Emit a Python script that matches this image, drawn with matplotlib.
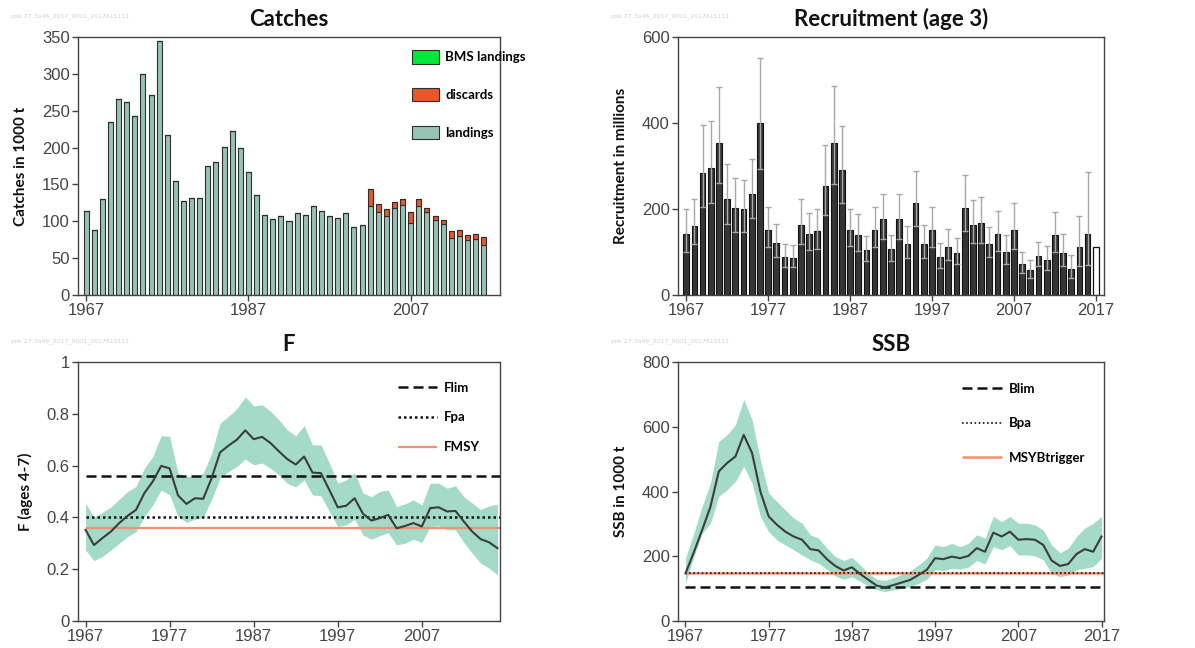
import matplotlib
matplotlib.use("Agg")
import matplotlib.pyplot as plt
import numpy as np

# catches (1000 t)
catch_years = list(range(1967, 2017))
landings = [114, 88, 130, 235, 266, 262, 243, 300, 271, 345,
            217, 155, 128, 131, 131, 175, 180, 201, 222, 199,
            167, 136, 109, 103, 107, 100, 111, 109, 121, 114,
            107, 105, 111, 92, 95, 121, 112, 107, 118, 122,
            97, 121, 113, 102, 96, 77, 80, 74, 76, 68]
discards = [0] * 35 + [23, 12, 9, 8, 8, 15, 9, 5, 5, 6, 10, 8, 7, 7, 11]
bms = [0] * 50

# recruitment age 3 (millions)
rec_years = list(range(1967, 2018))
recruits = [143, 160, 284, 296, 354, 224, 203, 200, 236, 401,
            152, 121, 89, 85, 163, 143, 148, 254, 354, 290,
            152, 139, 104, 152, 176, 106, 176, 119, 215, 118,
            152, 88, 112, 97, 203, 163, 167, 119, 141, 99,
            152, 72, 57, 91, 82, 139, 97, 61, 112, 141, 112]
rec_high = [199, 223, 395, 404, 483, 305, 271, 268, 317, 552,
            205, 164, 118, 117, 223, 191, 201, 348, 486, 392,
            201, 188, 138, 204, 236, 139, 236, 160, 289, 163,
            204, 121, 154, 132, 278, 220, 229, 159, 196, 139,
            215, 100, 81, 124, 114, 193, 143, 94, 184, 287]
rec_low = [101, 119, 205, 214, 260, 165, 147, 147, 179, 293,
           112, 88, 65, 65, 119, 104, 108, 187, 258, 214,
           113, 102, 78, 112, 130, 78, 130, 87, 160, 86,
           112, 63, 81, 71, 148, 120, 122, 88, 102, 71,
           107, 52, 40, 67, 58, 100, 68, 40, 68, 70]

# fishing mortality F (ages 4-7)
f_years = list(range(1967, 2017))
f_est = [0.352, 0.293, 0.320, 0.345, 0.378, 0.406, 0.429, 0.494, 0.539, 0.599,
         0.589, 0.485, 0.452, 0.474, 0.472, 0.552, 0.651, 0.677, 0.700, 0.736,
         0.702, 0.711, 0.687, 0.655, 0.625, 0.604, 0.635, 0.573, 0.571, 0.506,
         0.439, 0.445, 0.474, 0.414, 0.388, 0.397, 0.410, 0.358, 0.367, 0.378,
         0.365, 0.436, 0.439, 0.423, 0.425, 0.384, 0.345, 0.316, 0.304, 0.281]
f_high = [0.455, 0.40, 0.42, 0.44, 0.47, 0.50, 0.52, 0.59, 0.635, 0.716,
          0.713, 0.571, 0.558, 0.558, 0.571, 0.648, 0.764, 0.79, 0.82, 0.865,
          0.83, 0.835, 0.81, 0.777, 0.738, 0.715, 0.754, 0.68, 0.68, 0.61,
          0.532, 0.545, 0.573, 0.494, 0.48, 0.50, 0.506, 0.442, 0.452, 0.468,
          0.448, 0.532, 0.532, 0.513, 0.522, 0.48, 0.455, 0.43, 0.445, 0.451]
f_low = [0.274, 0.233, 0.249, 0.274, 0.30, 0.326, 0.345, 0.403, 0.448, 0.506,
         0.487, 0.403, 0.381, 0.393, 0.40, 0.47, 0.552, 0.577, 0.597, 0.625,
         0.603, 0.61, 0.59, 0.564, 0.532, 0.517, 0.545, 0.487, 0.483, 0.423,
         0.365, 0.371, 0.393, 0.332, 0.316, 0.329, 0.341, 0.294, 0.30, 0.316,
         0.303, 0.365, 0.367, 0.352, 0.352, 0.303, 0.262, 0.223, 0.204, 0.178]
flim, fpa, fmsy = 0.56, 0.40, 0.36

# SSB (1000 t)
ssb_years = list(range(1967, 2018))
ssb = [147, 212, 281, 353, 462, 488, 508, 575, 519, 400,
       323, 297, 276, 261, 251, 222, 218, 191, 170, 156,
       166, 145, 127, 109, 104, 111, 119, 127, 142, 158,
       194, 191, 199, 194, 201, 225, 214, 273, 261, 276,
       251, 253, 251, 235, 187, 170, 176, 207, 222, 214, 261]
ssb_high = [194, 271, 354, 426, 555, 575, 606, 685, 622, 498,
            395, 369, 343, 318, 302, 266, 256, 225, 199, 187,
            197, 173, 147, 129, 125, 134, 144, 155, 173, 194,
            235, 230, 240, 230, 240, 266, 256, 323, 307, 323,
            302, 302, 297, 281, 235, 211, 225, 261, 287, 302, 323]
ssb_low = [116, 198, 271, 302, 385, 405, 431, 478, 426, 323,
           276, 250, 235, 220, 204, 189, 178, 160, 139, 129,
           137, 122, 108, 96, 91, 96, 101, 106, 116, 129,
           158, 156, 163, 160, 166, 187, 176, 230, 220, 233,
           204, 204, 201, 189, 147, 137, 142, 158, 163, 168, 194]
blim, bpa, msy_btrigger = 106, 147, 147

TICK_FONT = ["Liberation Sans Narrow", "Liberation Sans", "DejaVu Sans"]
BOLD_FONT = ["Lato", "DejaVu Sans"]
WATERMARK = "pok.27.3a46_2017_9001_2017615111"
BAND = "#a3dbc8"


def style_axes(ax, xlim, ylim, yticks, xticks, ylabel, title):
    ax.set_xlim(*xlim)
    ax.set_ylim(*ylim)
    ax.set_yticks(yticks)
    ax.set_xticks(xticks)
    for sp in ax.spines.values():
        sp.set_color("#444444")
        sp.set_linewidth(1.0)
    ax.tick_params(axis="both", length=4, width=1, color="#444444",
                   labelcolor="#444444", labelsize=12, pad=2)
    for lab in ax.get_xticklabels() + ax.get_yticklabels():
        lab.set_family(TICK_FONT)
    ax.set_ylabel(ylabel, family=BOLD_FONT, fontweight="bold", fontsize=11,
                  color="#111111", labelpad=10)
    ax.set_title(title, family=BOLD_FONT, fontweight="bold", fontsize=16,
                 color="#111111", pad=8)


fig = plt.figure(figsize=(11.95, 6.48), dpi=100)
W, H = 1195, 648


def add_ax(x0, y0, x1, y1):
    return fig.add_axes([x0 / W, 1 - y1 / H, (x1 - x0) / W, (y1 - y0) / H])


ax1 = add_ax(78, 37, 500, 295)
ax2 = add_ax(678, 37, 1104, 295)
ax3 = add_ax(78, 362, 500, 621)
ax4 = add_ax(678, 362, 1104, 621)

for x in (10, 610):
    fig.text(x / W, 1 - 17 / H, WATERMARK, fontsize=4.5, color="#d0d0d0")
    fig.text(x / W, 1 - 342 / H, WATERMARK, fontsize=4.5, color="#d0d0d0")

# --- Catches
land = np.array(landings)
disc = np.array(discards)
ax1.bar(catch_years, land, width=0.62, color="#96c3b4", edgecolor="#2e2e2e",
        linewidth=0.8, label="landings")
ax1.bar(catch_years, disc, bottom=land, width=0.62, color="#e8562a",
        edgecolor="#2e2e2e", linewidth=0.8, label="discards")
ax1.bar(catch_years, bms, bottom=land + disc, width=0.62, color="#00e83a",
        edgecolor="#2e2e2e", linewidth=0.8, label="BMS landings")
style_axes(ax1, (1966, 2018), (0, 350), range(0, 351, 50), [1967, 1987, 2007],
           "Catches in 1000 t", "Catches")
h, l = ax1.get_legend_handles_labels()
ax1.legend(h[::-1], l[::-1], loc="upper left", bbox_to_anchor=(0.78, 0.97),
           frameon=False, prop={"family": BOLD_FONT, "weight": "bold", "size": 9.5},
           handlelength=2.0, handleheight=1.2, labelspacing=1.85, handletextpad=0.5,
           borderaxespad=0)

# --- Recruitment
err = [np.array(recruits[:-1]) - np.array(rec_low), np.array(rec_high) - np.array(recruits[:-1])]
ax2.bar(rec_years[:-1], recruits[:-1], width=0.7, color="#353535",
        edgecolor="#111111", linewidth=0.8, zorder=2)
ax2.errorbar(rec_years[:-1], recruits[:-1], yerr=err, fmt="none",
             ecolor="#a8a8a8", elinewidth=1.0, capsize=2.5, capthick=1.0, zorder=3)
ax2.bar(rec_years[-1:], recruits[-1:], width=0.7, color="white",
        edgecolor="#111111", linewidth=0.9, zorder=2)
style_axes(ax2, (1966, 2018), (0, 600), [0, 200, 400, 600],
           [1967, 1977, 1987, 1997, 2007, 2017], "Recruitment in millions",
           "Recruitment (age 3)")

# --- F
ax3.fill_between(f_years, f_low, f_high, color=BAND, linewidth=0, zorder=1)
ax3.hlines(fmsy, 1967, 2016.3, color="#f4906c", linewidth=1.6, label="FMSY", zorder=2)
ax3.hlines(fpa, 1967, 2016.3, color="#111111", linewidth=1.8, linestyles=(0, (1, 1.2)),
           label="Fpa", zorder=3)
ax3.hlines(flim, 1967, 2016.3, color="#111111", linewidth=1.8, linestyles=(0, (4, 2)),
           label="Flim", zorder=3)
ax3.plot(f_years, f_est, color="#3c3c3c", linewidth=1.5, zorder=4)
style_axes(ax3, (1966.1, 2016.3), (0, 1), [0, 0.2, 0.4, 0.6, 0.8, 1],
           [1967, 1977, 1987, 1997, 2007], "F (ages 4-7)", "F")
ax3.set_yticklabels(["0", "0.2", "0.4", "0.6", "0.8", "1"], family=TICK_FONT)
h, l = ax3.get_legend_handles_labels()
ax3.legend(h[::-1], l[::-1], loc="upper left", bbox_to_anchor=(0.745, 0.945),
           frameon=False, prop={"family": BOLD_FONT, "weight": "bold", "size": 9.5},
           handlelength=3.0, labelspacing=1.35, handletextpad=0.5, borderaxespad=0)

# --- SSB
ax4.fill_between(ssb_years, ssb_low, ssb_high, color=BAND, linewidth=0, zorder=1)
ax4.hlines(msy_btrigger, 1967, 2017.3, color="#f4906c", linewidth=1.8,
           label="MSYBtrigger", zorder=2)
ax4.hlines(bpa, 1967, 2017.3, color="#111111", linewidth=1.2, linestyles=(0, (1, 1.5)),
           label="Bpa", zorder=3)
ax4.hlines(blim, 1967, 2017.3, color="#111111", linewidth=1.8, linestyles=(0, (4, 2)),
           label="Blim", zorder=3)
ax4.plot(ssb_years, ssb, color="#3c3c3c", linewidth=1.5, zorder=4)
style_axes(ax4, (1966.1, 2017.3), (0, 800), range(0, 801, 200),
           [1967, 1977, 1987, 1997, 2007, 2017], "SSB in 1000 t", "SSB")
h, l = ax4.get_legend_handles_labels()
ax4.legend(h[::-1], l[::-1], loc="upper left", bbox_to_anchor=(0.655, 0.94),
           frameon=False, prop={"family": BOLD_FONT, "weight": "bold", "size": 9.5},
           handlelength=3.0, labelspacing=1.7, handletextpad=0.5, borderaxespad=0)

fig.savefig("out.png", dpi=100)
